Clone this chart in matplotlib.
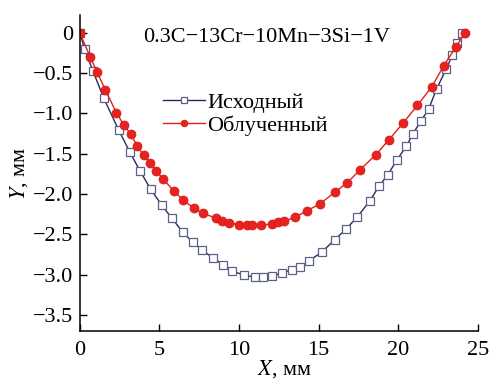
import numpy as np
import matplotlib.pyplot as plt

plt.rcParams['font.family'] = ['Liberation Serif', 'DejaVu Serif']
plt.rcParams['mathtext.fontset'] = 'stix'

# Исходный (initial)
x_init = [0, 0.3, 0.82, 1.5, 2.45, 3.14, 3.77, 4.45, 5.15, 5.78, 6.45, 7.1, 7.7,
          8.35, 9.0, 9.55, 10.3, 11.0, 11.5, 12.05, 12.7, 13.3, 13.85, 14.4, 15.2,
          16.0, 16.7, 17.4, 18.2, 18.8, 19.35, 19.9, 20.5, 20.9, 21.4, 21.9, 22.4,
          23.0, 23.4, 23.7, 24.0]
y_init = [0, -0.2, -0.47, -0.81, -1.21, -1.48, -1.71, -1.94, -2.14, -2.30, -2.47,
          -2.60, -2.70, -2.79, -2.88, -2.95, -3.01, -3.03, -3.03, -3.02, -2.98,
          -2.94, -2.90, -2.83, -2.72, -2.57, -2.44, -2.29, -2.09, -1.90, -1.76,
          -1.58, -1.41, -1.26, -1.10, -0.95, -0.70, -0.45, -0.28, -0.12, 0.0]

# Облученный (irradiated)
x_irr = [0, 0.65, 1.1, 1.6, 2.3, 2.75, 3.2, 3.6, 4.0, 4.4, 4.8, 5.2, 5.9, 6.5,
         7.2, 7.75, 8.55, 8.9, 9.35, 10.0, 10.5, 10.8, 11.35, 12.05, 12.45, 12.8,
         13.5, 14.25, 15.1, 16.0, 16.8, 17.6, 18.6, 19.4, 20.3, 21.2, 22.1, 22.85,
         23.6, 24.2]
y_irr = [0, -0.30, -0.49, -0.71, -0.99, -1.14, -1.26, -1.40, -1.52, -1.61, -1.71,
         -1.81, -1.96, -2.08, -2.18, -2.24, -2.30, -2.34, -2.36, -2.38, -2.39,
         -2.39, -2.39, -2.37, -2.35, -2.34, -2.29, -2.21, -2.12, -1.98, -1.86,
         -1.70, -1.51, -1.33, -1.12, -0.90, -0.67, -0.41, -0.18, 0.0]

fs = 16

fig = plt.figure(figsize=(5.02, 3.88), dpi=100)
ax = fig.add_axes([0.159, 0.147, 0.793, 0.814])

ax.plot(x_init, y_init, color='#2a2c55', lw=1.0, marker='s', ms=6,
        mfc='white', mec='#5c6088', mew=0.9, label='Исходный')
ax.plot(x_irr, y_irr, color='#e0201c', lw=1.0, marker='o', ms=6.5,
        mfc='#e8231f', mec='#d01a16', mew=0.5, label='Облученный')

ax.set_xlim(0, 25)
ax.set_ylim(-3.7, 0.22)
ax.set_xticks([0, 5, 10, 15, 20, 25])
ax.set_yticks([0, -0.5, -1.0, -1.5, -2.0, -2.5, -3.0, -3.5])
ax.set_yticklabels(['0', '−0.5', '−1.0', '−1.5', '−2.0', '−2.5', '−3.0', '−3.5'])
ax.tick_params(direction='in', length=5, width=1, labelsize=fs)
ax.tick_params(axis='y', pad=5)
ax.tick_params(axis='x', pad=7)
for s in ['top', 'right']:
    ax.spines[s].set_visible(False)
for s in ['left', 'bottom']:
    ax.spines[s].set_linewidth(1.1)

ax.set_xlabel(r'$X$, мм', fontsize=fs, labelpad=0)
ax.xaxis.set_label_coords(0.515, -0.085)
ax.set_ylabel(r'$Y$, мм', fontsize=fs, labelpad=2)

ax.text(0.47, 0.96, '0.3C−13Cr−10Mn−3Si−1V', transform=ax.transAxes,
        ha='center', va='top', fontsize=fs)

ax.legend(loc='upper left', bbox_to_anchor=(0.18, 0.79), frameon=False,
          fontsize=fs, handlelength=1.9, handletextpad=0.1, labelspacing=0.1,
          markerscale=0.75, borderpad=0)

fig.savefig('out.png', dpi=100)
